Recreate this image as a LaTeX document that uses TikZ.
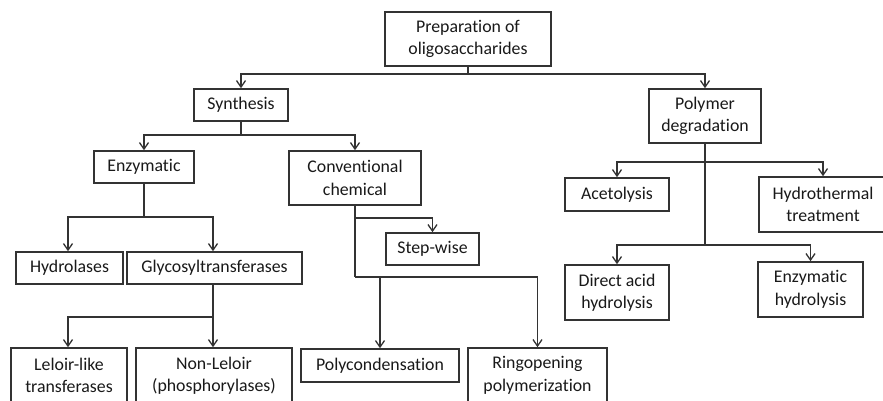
\documentclass[tikz,border=0pt]{standalone}
\usepackage{fontspec}
\setmainfont[Ligatures=NoCommon]{Carlito}
\usetikzlibrary{arrows.meta}
\definecolor{ln}{HTML}{333333}
\begin{document}
\begin{tikzpicture}[x=1pt,y=-1pt,
  box/.style={draw=ln,line width=1.6pt,inner sep=0pt,align=center,text=black!90,
    font=\fontsize{17.8}{22.5}\selectfont},
  conn/.style={draw=ln,line width=1.6pt},
  arr/.style={conn,-{Straight Barb[length=6.5pt,width=9pt,line width=1.3pt]}}]
\clip (0,0) rectangle (883,400);
\fill[white] (0,0) rectangle (883,400);
% nodes
\node[box,minimum width=166pt,minimum height=54pt] (prep) at (468,39) {Preparation of\\oligosaccharides};
\node[box,minimum width=94pt,minimum height=32pt] (synth) at (241,105) {Synthesis};
\node[box,minimum width=112pt,minimum height=54pt] (poly) at (705,116) {Polymer\\degradation};
\node[box,minimum width=100pt,minimum height=32pt] (enz) at (144,167) {Enzymatic};
\node[box,minimum width=132pt,minimum height=54pt] (conv) at (355,178) {Conventional\\chemical};
\node[box,minimum width=104pt,minimum height=33pt] (acet) at (617,194.5) {Acetolysis};
\node[box,minimum width=128pt,minimum height=55pt] (hydro) at (823,204.5) {Hydrothermal\\treatment};
\node[box,minimum width=104pt,minimum height=55pt] (direct) at (617,292.5) {Direct acid\\hydrolysis};
\node[box,minimum width=105pt,minimum height=55pt] (enzh) at (810.5,289.5) {Enzymatic\\hydrolysis};
\node[box,minimum width=93pt,minimum height=32pt] (stepw) at (432.5,249) {Step-wise};
\node[box,minimum width=107pt,minimum height=32pt] (hydrol) at (69.5,268) {Hydrolases};
\node[box,minimum width=175pt,minimum height=32pt] (glyco) at (214.5,268) {Glycosyltransferases};
\node[box,minimum width=116pt,minimum height=55pt] (leloir) at (69,375.5) {Leloir-like\\transferases};
\node[box,minimum width=156pt,minimum height=55pt] (nonle) at (214,375.5) {Non-Leloir\\(phosphorylases)};
\node[box,minimum width=158pt,minimum height=33pt] (polyc) at (380,365.5) {Polycondensation};
\node[box,minimum width=139pt,minimum height=55pt] (ring) at (537.5,375.5) {Ringopening\\polymerization};
% junction coordinates
\coordinate (j1) at (468,74);
\coordinate (j2) at (241,135);
\coordinate (j3) at (144,217);
\coordinate (j4) at (213,317);
\coordinate (j5) at (355,218);
\coordinate (j6) at (355,277);
\coordinate (j7) at (705,162);
\coordinate (j8) at (705,245);
% connectors
\draw[conn] (prep.south) -- (j1);
\draw[arr] (j1) -| (synth.north);
\draw[arr] (j1) -| (poly.north);
\draw[conn] (synth.south) -- (j2);
\draw[arr] (j2) -| (enz.north);
\draw[arr] (j2) -| (conv.north);
\draw[conn] (enz.south) -- (j3);
\draw[arr] (j3) -| ([xshift=-1.5pt]hydrol.north);
\draw[arr] (j3) -| ([xshift=-1.5pt]glyco.north);
\draw[conn] ([xshift=-1.5pt]glyco.south) -- (j4);
\draw[arr] (j4) -| ([xshift=-1pt]leloir.north);
\draw[arr] (j4) -| ([xshift=-1pt]nonle.north);
\draw[conn] (conv.south) -- (j6);
\draw[arr] (j5) -| (stepw.north);
\draw[arr] (j6) -| (polyc.north);
\draw[arr] (j6) -| (ring.north);
\draw[conn] (poly.south) -- (j8);
\draw[arr] (j7) -| (acet.north);
\draw[arr] (j7) -| (hydro.north);
\draw[arr] (j8) -| (direct.north);
\draw[arr] (j8) -| (enzh.north);
\end{tikzpicture}
\end{document}
